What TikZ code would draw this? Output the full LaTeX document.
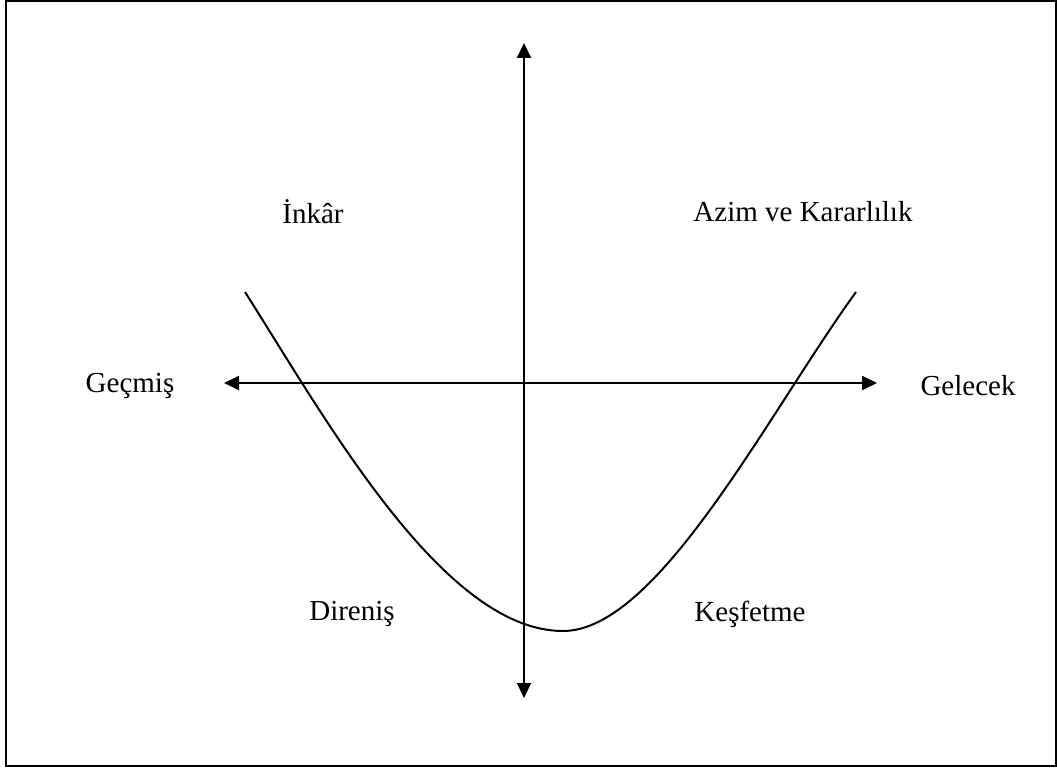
\documentclass[tikz,border=0pt]{standalone}
\usepackage{fontspec}
\setmainfont{Liberation Serif}
\usetikzlibrary{arrows.meta}
\begin{document}
\begin{tikzpicture}[x=1pt,y=-1pt,
  lbl/.style={font=\fontsize{29}{34}\selectfont, inner sep=0pt, anchor=center},
  axis/.style={line width=2pt, {Triangle[width=14pt,length=15pt]}-{Triangle[width=14pt,length=15pt]}},
  curve/.style={line width=2pt}]
\useasboundingbox (0,0) rectangle (1057,770);
\draw[line width=2pt] (5.5,1) rectangle (1056,766);
% axes
\coordinate (top) at (524,43);
\coordinate (bot) at (524,698);
\coordinate (lft) at (224,383);
\coordinate (rgt) at (877,383);
\draw[axis] (top) -- (bot);
\draw[axis] (lft) -- (rgt);
% curve
\coordinate (c0) at (245,292);
\coordinate (cm) at (563,631);
\coordinate (c1) at (856,292);
\draw[curve] (c0) .. controls (325.5,418.5) and (443,631) .. (cm)
                  .. controls (658,631) and (768,413.5) .. (c1);
% labels
\node[lbl] (inkar) at (313,212) {İnkâr};
\node[lbl] (azim) at (803,212) {Azim ve Kararlılık};
\node[lbl] (gecmis) at (130,386) {Geçmiş};
\node[lbl] (gelecek) at (968,386) {Gelecek};
\node[lbl] (direnis) at (352,614) {Direniş};
\node[lbl] (kesfetme) at (750,614) {Keşfetme};
\end{tikzpicture}
\end{document}
